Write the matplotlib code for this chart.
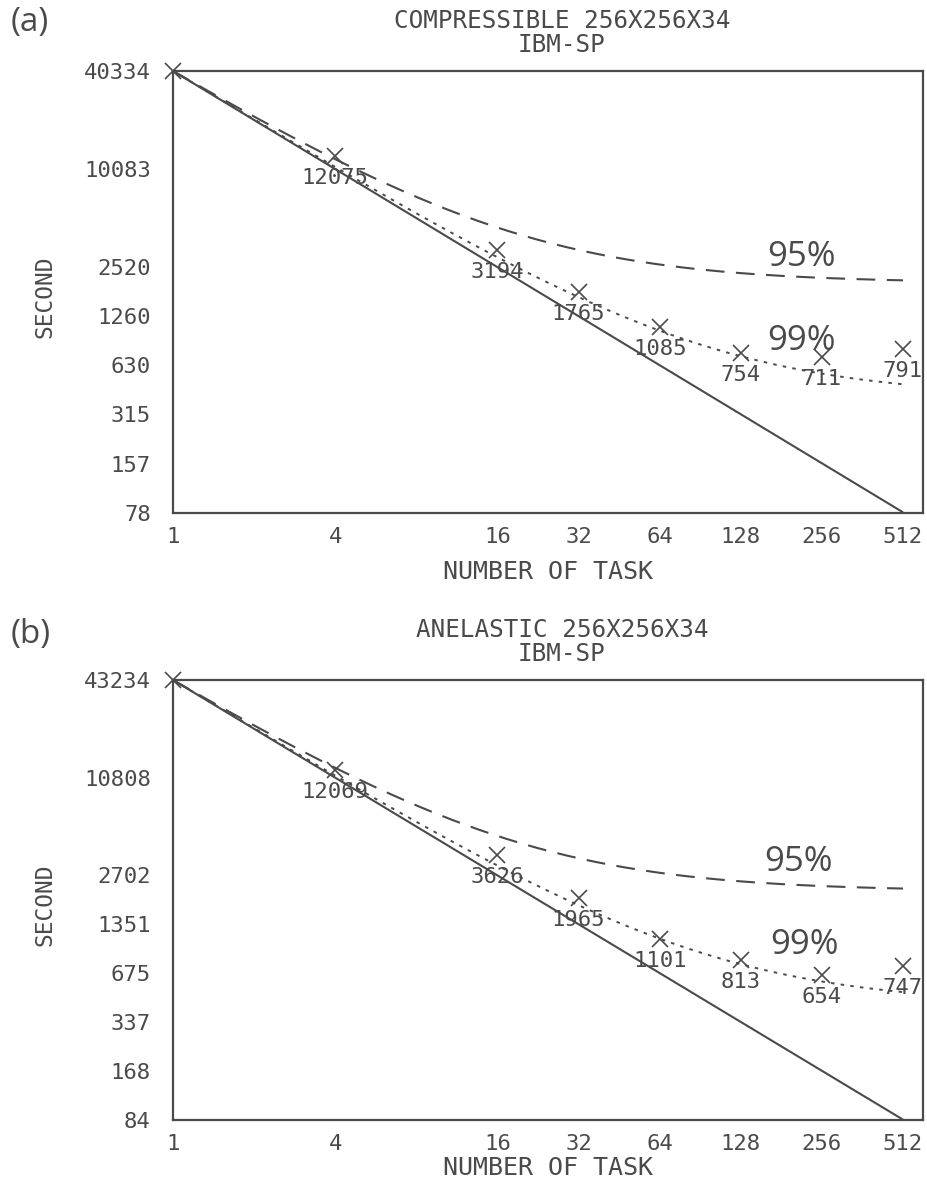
import numpy as np
import matplotlib
matplotlib.use("Agg")
import matplotlib.pyplot as plt

# ---------------- data ----------------
tasks = [1, 4, 16, 32, 64, 128, 256, 512]
xtick_labels = ["1", "4", "16", "32", "64", "128", "256", "512"]

comp_times = [40334, 12075, 3194, 1765, 1085, 754, 711, 791]
comp_labels = ["", "12075", "3194", "1765", "1085", "754", "711", "791"]
comp_yticks = [40334, 10083, 2520, 1260, 630, 315, 157, 78]

anel_times = [43234, 12069, 3626, 1965, 1101, 813, 654, 747]
anel_labels = ["", "12069", "3626", "1965", "1101", "813", "654", "747"]
anel_yticks = [43234, 10808, 2702, 1351, 675, 337, 168, 84]

parallel_fractions = [0.95, 0.99]   # Amdahl curves labelled 95% / 99%

titles = ["COMPRESSIBLE 256X256X34\nIBM-SP", "ANELASTIC 256X256X34\nIBM-SP"]
panel_tags = ["(a)", "(b)"]

# ---------------- style ----------------
C = "#4a4a4a"
MONO = "DejaVu Sans Mono"
SANS = "Open Sans"

W, H = 928, 1187
fig = plt.figure(figsize=(W / 100, H / 100), dpi=100)

def fx(px):
    return px / W

def fy(py):
    return 1 - py / H

panels = [
    dict(top=71, bottom=513, times=comp_times, labels=comp_labels,
         yticks=comp_yticks, title=titles[0], tag=panel_tags[0],
         tag_y=22, t95=(0.838, 0.58), t99=(0.838, 0.39), xlab_y=572),
    dict(top=680, bottom=1120, times=anel_times, labels=anel_labels,
         yticks=anel_yticks, title=titles[1], tag=panel_tags[1],
         tag_y=635, t95=(0.834, 0.586), t99=(0.842, 0.398), xlab_y=1168),
]

left_px, right_px = 173, 923

for P in panels:
    h_px = P["bottom"] - P["top"]
    ax = fig.add_axes([fx(left_px), fy(P["bottom"]),
                       fx(right_px) - fx(left_px), h_px / H])
    ax.set_xscale("log", base=2)
    ax.set_yscale("log", base=2)
    t1 = P["times"][0]
    ymin = t1 / 512.0
    ax.set_xlim(1, 512 * 2 ** ((right_px - 903) / 81.1))
    ax.set_ylim(ymin, t1)

    # ideal scaling line
    xs = np.array(tasks, dtype=float)
    ax.plot(xs, t1 / xs, color=C, lw=1.5, solid_capstyle="butt")

    # Amdahl curves
    xc = np.geomspace(1, 512, 300)
    styles = [dict(ls=(0, (9, 5.5)), lw=1.5), dict(ls=(0, (1.8, 3.2)), lw=1.4)]
    for f, st in zip(parallel_fractions, styles):
        ax.plot(xc, t1 * (f / xc + (1 - f)), color=C, **st)

    # measured points
    ax.plot(tasks, P["times"], ls="none", marker="x", ms=12, mew=1.2,
            color=C, clip_on=False, zorder=5)
    for x, y, lab in zip(tasks, P["times"], P["labels"]):
        if lab:
            ax.annotate(lab, (x, y), xytext=(0, -22), textcoords="offset pixels",
                        ha="center", va="center", fontsize=16,
                        family=MONO, color=C, zorder=6)

    ax.text(*P["t95"], "95%", transform=ax.transAxes, ha="center", va="center",
            fontsize=25, family=SANS, color=C)
    ax.text(*P["t99"], "99%", transform=ax.transAxes, ha="center", va="center",
            fontsize=25, family=SANS, color=C)

    ax.set_xticks(tasks)
    ax.set_xticklabels(xtick_labels)
    ax.set_yticks(P["yticks"])
    ax.set_yticklabels([str(v) for v in P["yticks"]])
    ax.minorticks_off()
    ax.tick_params(length=0, labelsize=16, colors=C)
    ax.tick_params(axis="y", pad=16)
    ax.tick_params(axis="x", pad=10)
    for lab in ax.get_xticklabels() + ax.get_yticklabels():
        lab.set_family(MONO)
    for s in ax.spines.values():
        s.set_color(C)
        s.set_linewidth(1.6)

    ax.set_xlabel("NUMBER OF TASK", family=MONO, fontsize=18, color=C)
    ax.xaxis.set_label_coords(0.5, -(P["xlab_y"] - P["bottom"]) / h_px)
    ax.xaxis.label.set_va("center")
    ax.set_ylabel("SECOND", family=MONO, fontsize=16.5, color=C)
    ax.yaxis.set_label_coords((45 - left_px) / (right_px - left_px), 0.49)
    ax.yaxis.label.set_va("center")

    # title (two lines)
    fig.text(fx(562), fy(P["top"] - 38), P["title"], ha="center", va="center",
             family=MONO, fontsize=17.5, color=C, linespacing=1.05)
    # panel tag
    fig.text(fx(11), fy(P["tag_y"]), P["tag"], ha="left", va="center",
             family=SANS, fontsize=24, color=C)

fig.savefig("out.png", dpi=100)
